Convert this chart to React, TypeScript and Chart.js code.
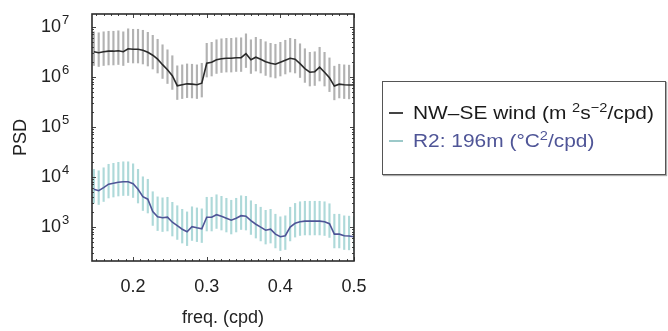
import React, { useEffect, useRef } from 'react';
import { Chart, registerables } from 'chart.js';

Chart.register(...registerables);

// frequency (cpd)
const freq = [
  0.1467, 0.1533, 0.16, 0.1667, 0.1733, 0.18, 0.1867, 0.1933, 0.2, 0.2067,
  0.2133, 0.22, 0.2267, 0.2333, 0.24, 0.2467, 0.2533, 0.26, 0.2667, 0.2733,
  0.28, 0.2867, 0.2933, 0.3, 0.3067, 0.3133, 0.32, 0.3267, 0.3333, 0.34,
  0.3467, 0.3533, 0.36, 0.3667, 0.3733, 0.38, 0.3867, 0.3933, 0.4, 0.4067,
  0.4133, 0.42, 0.4267, 0.4333, 0.44, 0.4467, 0.4533, 0.46, 0.4667, 0.4733,
  0.48, 0.4867, 0.4933, 0.5,
];

// NW–SE wind PSD (m^2 s^-2 / cpd)
const windPSD = [
  3.16e6, 3.02e6, 3.16e6, 3.24e6, 3.24e6, 3.31e6, 3.16e6, 3.63e6, 3.55e6, 3.55e6,
  3.39e6, 3.09e6, 2.69e6, 2.24e6, 1.74e6, 1.38e6, 1.05e6, 6.6e5, 6.9e5, 7.2e5,
  7.1e5, 6.9e5, 7.4e5, 1.86e6, 1.95e6, 2.19e6, 2.29e6, 2.34e6, 2.34e6, 2.4e6,
  2.4e6, 2.88e6, 2.19e6, 2.45e6, 2.24e6, 2.0e6, 1.86e6, 1.78e6, 1.95e6, 2.14e6,
  2.34e6, 2.24e6, 1.82e6, 1.45e6, 1.23e6, 1.26e6, 1.55e6, 1.23e6, 9.5e5, 6.5e5,
  7.1e5, 6.9e5, 6.8e5, 6.8e5,
];

// R2: 196 m temperature PSD (°C^2 / cpd)
const r2PSD = [
  5620, 5250, 6030, 7080, 7410, 7760, 7940, 7940, 7240, 5620,
  3980, 3550, 2000, 1580, 1510, 1550, 1230, 1050, 890, 790,
  1000, 950, 910, 1550, 1550, 1740, 1620, 1480, 1350, 1480,
  1660, 1620, 1320, 1120, 980, 850, 890, 710, 630, 660,
  980, 1170, 1260, 1290, 1290, 1290, 1290, 1260, 1150, 710,
  710, 660, 650, 630,
];

// confidence interval multipliers (upper / lower)
const CI_UPPER = 2.5;
const CI_LOWER = 0.53;

const xTickValues = [0.2, 0.3, 0.4, 0.5];
const xTickLabels = ['0.2', '0.3', '0.4', '0.5'];
const yTickValues = [1e3, 1e4, 1e5, 1e6, 1e7];
const yTickBase = ['10', '10', '10', '10', '10'];
const yTickExponents = ['3', '4', '5', '6', '7'];

const X_MIN = 0.1442;
const X_MAX = 0.5;
const Y_MIN = 206;
const Y_MAX = 1.795e7;

const FONT = "'Liberation Sans', Arial, Helvetica, sans-serif";

const framePlugin = {
  id: 'frame',
  afterDraw(chart: any) {
    const { ctx, chartArea: a, scales } = chart;
    const xs = scales.x;
    const ys = scales.y;
    ctx.save();
    ctx.strokeStyle = '#444';
    ctx.lineWidth = 1;
    for (let i = 15; i <= 50; i++) {
      const v = i / 100;
      if (v < X_MIN || v > X_MAX) continue;
      const px = Math.round(xs.getPixelForValue(v)) + 0.5;
      const len = i % 10 === 0 ? 4 : 2;
      ctx.beginPath();
      ctx.moveTo(px, a.bottom);
      ctx.lineTo(px, a.bottom - len);
      ctx.moveTo(px, a.top);
      ctx.lineTo(px, a.top + len);
      ctx.stroke();
    }
    for (let d = 2; d <= 7; d++) {
      for (let m = 1; m <= 9; m++) {
        const v = m * Math.pow(10, d);
        if (v < Y_MIN || v > Y_MAX) continue;
        const py = Math.round(ys.getPixelForValue(v)) + 0.5;
        const len = m === 1 ? 4 : 2;
        ctx.beginPath();
        ctx.moveTo(a.left, py);
        ctx.lineTo(a.left + len, py);
        ctx.moveTo(a.right, py);
        ctx.lineTo(a.right - len, py);
        ctx.stroke();
      }
    }
    ctx.lineWidth = 1.6;
    ctx.strokeStyle = '#2b2b2b';
    ctx.strokeRect(a.left, a.top, a.right - a.left, a.bottom - a.top);

    // exponents of the y tick labels
    ctx.fillStyle = '#222';
    ctx.font = `13px ${FONT}`;
    ctx.textAlign = 'left';
    ctx.textBaseline = 'middle';
    yTickValues.forEach((v, i) => {
      const py = ys.getPixelForValue(v);
      ctx.fillText(yTickExponents[i], 62, py - 6);
    });
    ctx.restore();
  },
};

function App() {
  const canvasRef = useRef<HTMLCanvasElement | null>(null);

  useEffect(() => {
    const canvas = canvasRef.current;
    if (!canvas) return;

    const windBars = freq.map((f, i) => ({ x: f, y: [windPSD[i] * CI_LOWER, windPSD[i] * CI_UPPER] }));
    const r2Bars = freq.map((f, i) => ({ x: f, y: [r2PSD[i] * CI_LOWER, r2PSD[i] * CI_UPPER] }));
    const windLine = freq.map((f, i) => ({ x: f, y: windPSD[i] }));
    const r2Line = freq.map((f, i) => ({ x: f, y: r2PSD[i] }));

    const chart = new Chart(canvas, {
      type: 'line',
      data: {
        datasets: [
          {
            type: 'bar',
            label: 'wind CI',
            data: windBars as any,
            backgroundColor: 'rgba(165,165,165,0.85)',
            barThickness: 1.5,
            grouped: false,
            order: 2,
          } as any,
          {
            type: 'bar',
            label: 'R2 CI',
            data: r2Bars as any,
            backgroundColor: 'rgba(165,213,213,0.9)',
            barThickness: 1.5,
            grouped: false,
            order: 2,
          } as any,
          {
            type: 'line',
            label: 'NW–SE wind',
            data: windLine,
            borderColor: '#2a2a2a',
            borderWidth: 1.6,
            pointRadius: 0,
            tension: 0,
            order: 0,
          },
          {
            type: 'line',
            label: 'R2: 196m',
            data: r2Line,
            borderColor: '#4f5597',
            borderWidth: 1.6,
            pointRadius: 0,
            tension: 0,
            order: 0,
          },
        ],
      },
      options: {
        animation: false,
        responsive: false,
        devicePixelRatio: 1,
        layout: { padding: { left: 0, top: 14, right: 314, bottom: 0 } },
        plugins: {
          legend: { display: false },
          tooltip: { enabled: false },
        },
        scales: {
          x: {
            type: 'linear',
            min: X_MIN,
            max: X_MAX,
            offset: false,
            grid: { display: false, drawTicks: false },
            border: { display: false },
            afterBuildTicks: (scale: any) => {
              scale.ticks = xTickValues.map((v) => ({ value: v }));
            },
            afterFit: (scale: any) => {
              scale.height = 70;
              scale.paddingLeft = 0;
              scale.paddingRight = 0;
            },
            ticks: {
              autoSkip: false,
              maxRotation: 0,
              padding: 15,
              color: '#222',
              font: { family: FONT, size: 18 },
              callback: (v: any) => {
                const idx = xTickValues.findIndex((t) => Math.abs(t - Number(v)) < 1e-9);
                return idx >= 0 ? xTickLabels[idx] : '';
              },
            },
            title: {
              display: true,
              text: 'freq. (cpd)',
              color: '#222',
              font: { family: FONT, size: 18 },
              padding: { top: 0, bottom: 2 },
            },
          },
          y: {
            type: 'logarithmic',
            min: Y_MIN,
            max: Y_MAX,
            grid: { display: false, drawTicks: false },
            border: { display: false },
            afterBuildTicks: (scale: any) => {
              scale.ticks = yTickValues.map((v) => ({ value: v }));
            },
            afterFit: (scale: any) => {
              scale.width = 92;
              scale.paddingTop = 0;
              scale.paddingBottom = 0;
            },
            ticks: {
              autoSkip: false,
              padding: 31,
              color: '#222',
              font: { family: FONT, size: 18 },
              callback: (v: any) => {
                const idx = yTickValues.findIndex((t) => Math.abs(t - Number(v)) / t < 1e-6);
                return idx >= 0 ? yTickBase[idx] : '';
              },
            },
            title: {
              display: true,
              text: 'PSD',
              color: '#222',
              font: { family: FONT, size: 18 },
              padding: { top: 10, bottom: 0 },
            },
          },
        },
      },
      plugins: [framePlugin],
    });

    return () => chart.destroy();
  }, []);

  const legendText: React.CSSProperties = {
    position: 'absolute',
    left: 30,
    fontFamily: FONT,
    fontSize: 19,
    lineHeight: '22px',
    whiteSpace: 'nowrap',
    transform: 'scaleX(1.1)',
    transformOrigin: 'left center',
  };
  const sample: React.CSSProperties = {
    position: 'absolute',
    left: 6,
    width: 14,
    height: 2,
  };
  const sup: React.CSSProperties = { fontSize: '0.7em', lineHeight: 0 };

  return (
    <div style={{ position: 'absolute', left: 0, top: 0, width: 668, height: 331, background: '#fff', overflow: 'hidden' }}>
      <canvas ref={canvasRef} width={668} height={331} style={{ position: 'absolute', left: 0, top: 0, width: 668, height: 331 }} />
      <div
        style={{
          position: 'absolute',
          left: 382,
          top: 81,
          width: 284,
          height: 94,
          boxSizing: 'border-box',
          border: '1.5px solid #555',
          boxShadow: '1px 1px 1px #aaa',
          background: '#fff',
        }}
      >
        <div style={{ ...sample, top: 30, background: '#444' }} />
        <div style={{ ...legendText, top: 20, color: '#1a1a1a' }}>
          NW–SE wind (m <sup style={sup}>2</sup>s<sup style={sup}>−2</sup>/cpd)
        </div>
        <div style={{ ...sample, top: 58, background: '#9cc9c9' }} />
        <div style={{ ...legendText, top: 48, color: '#4f5597' }}>
          R2: 196m (°C<sup style={sup}>2</sup>/cpd)
        </div>
      </div>
    </div>
  );
}

export default App;
